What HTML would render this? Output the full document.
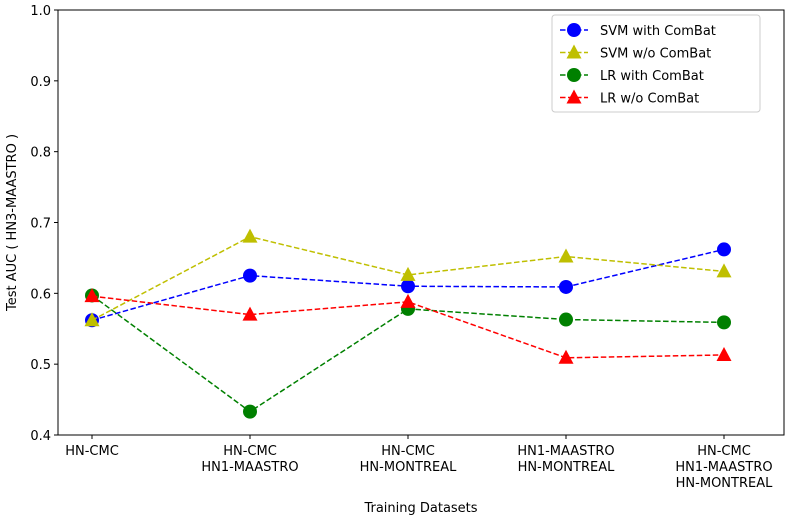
<!DOCTYPE html>
<html><head><meta charset="utf-8"><style>
body{margin:0;background:#fff;font-family:"Liberation Sans","DejaVu Sans",sans-serif}
svg text{font-family:"DejaVu Sans","Liberation Sans",sans-serif;font-size:13px;fill:#000}
</style></head><body>
<svg id="c" width="785" height="518" xmlns="http://www.w3.org/2000/svg"></svg>
<script>
const categories=[["HN-CMC"],["HN-CMC","HN1-MAASTRO"],["HN-CMC","HN-MONTREAL"],["HN1-MAASTRO","HN-MONTREAL"],["HN-CMC","HN1-MAASTRO","HN-MONTREAL"]];
const svmWith=[0.562,0.625,0.610,0.609,0.662];
const svmWithout=[0.562,0.680,0.626,0.652,0.631];
const lrWith=[0.597,0.433,0.578,0.563,0.559];
const lrWithout=[0.596,0.570,0.588,0.509,0.513];
const yTicks=[0.4,0.5,0.6,0.7,0.8,0.9,1.0];
const seriesNames=["SVM with ComBat","SVM w/o ComBat","LR with ComBat","LR w/o ComBat"];
const NS="http://www.w3.org/2000/svg";
const svg=document.getElementById('c');
const L=58,R=784,T=10,B=435;
const x=i=>92+i*158;
const y=v=>B-(v-0.4)/0.6*(B-T);
function mk(t,a,p){const e=document.createElementNS(NS,t);for(const k in a)e.setAttribute(k,a[k]);(p||svg).appendChild(e);return e;}
const frame=mk('rect',{x:L,y:T,width:R-L,height:B-T,fill:'none',stroke:'#000','stroke-width':1});


yTicks.forEach(v=>{
 const tk=mk('line',{x1:L-4,x2:L,y1:y(v),y2:y(v),stroke:'#000'});
 
 
 const t=mk('text',{x:L-7,y:y(v)+5,'text-anchor':'end'});t.textContent=v.toFixed(1);
 
 
});
categories.forEach((c,i)=>{
 const tk=mk('line',{x1:x(i),x2:x(i),y1:B,y2:B+4,stroke:'#000'});
 
 
 c.forEach((s,j)=>{const t=mk('text',{x:x(i),y:B+20+j*16,'text-anchor':'middle'});t.textContent=s;
 
 });
});
const xt=mk('text',{x:(L+R)/2,y:512,'text-anchor':'middle'});xt.textContent='Training Datasets';


const yt=mk('text',{x:0,y:0,'text-anchor':'middle',transform:`translate(16,${(T+B)/2}) rotate(-90)`});yt.textContent='Test AUC ( HN3-MAASTRO )';


const series=[[svmWith,'#0000ff','circle'],[svmWithout,'#bfbf00','tri'],[lrWith,'#008000','circle'],[lrWithout,'#ff0000','tri']];
function marker(cx,cy,col,shape,p){
 if(shape==='circle')return mk('circle',{cx:cx,cy:cy,r:7,fill:col},p);
 return mk('polygon',{points:`${cx},${cy-8} ${cx-7.5},${cy+6} ${cx+7.5},${cy+6}`,fill:col},p);
}
series.forEach(([vals,col,shape],si)=>{
 const g=mk('g',{});
 
 
 const ln=mk('polyline',{points:vals.map((v,i)=>x(i)+','+y(v)).join(' '),fill:'none',stroke:col,'stroke-width':1.5,'stroke-dasharray':'5.5,2.5'},g);
 
 
 vals.forEach((v,i)=>{const m=marker(x(i),y(v),col,shape,g);
 
 });
});
const lg=mk('g',{});


mk('rect',{x:552,y:15,width:208,height:97,rx:3,fill:'#fff',stroke:'#ccc'},lg);
series.forEach(([v,col,shape],i)=>{
 const yy=30+i*22.5;
 const e=mk('g',{},lg);
 
 
 mk('line',{x1:560,x2:588,y1:yy,y2:yy,stroke:col,'stroke-width':1.5,'stroke-dasharray':'5.5,2.5'},e);
 marker(574,yy,col,shape,e);
 const t=mk('text',{x:600,y:yy+5},e);t.textContent=seriesNames[i];
});
</script>
</body></html>
